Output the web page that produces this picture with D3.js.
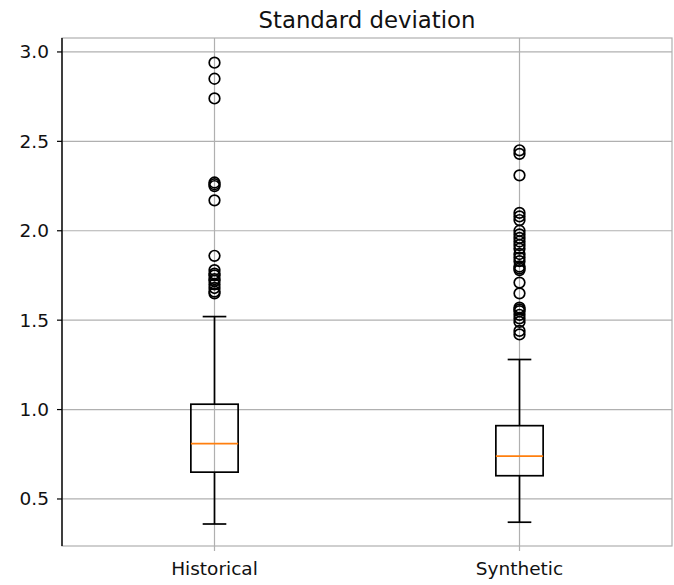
<!DOCTYPE html>
<html>
<head>
<meta charset="utf-8">
<script src="https://cdn.jsdelivr.net/npm/d3@7"></script>
<style>
  html, body { margin: 0; padding: 0; background: #fff; }
  svg { display: block; font-family: "DejaVu Sans", sans-serif; }
</style>
</head>
<body>
<svg id="chart" width="674" height="585"></svg>
<script>
// ---- data ----
const title = "Standard deviation";
const categories = ["Historical", "Synthetic"];
const whiskerLow = [0.36, 0.37];
const q1 = [0.65, 0.63];
const median = [0.81, 0.74];
const q3 = [1.03, 0.91];
const whiskerHigh = [1.52, 1.28];
const outliersHistorical = [2.94, 2.85, 2.74, 2.27, 2.26, 2.25, 2.17, 1.86,
  1.78, 1.76, 1.75, 1.73, 1.72, 1.70, 1.68, 1.66, 1.65];
const outliersSynthetic = [2.45, 2.43, 2.31, 2.10, 2.08, 2.06, 2.00, 1.98, 1.96,
  1.94, 1.92, 1.90, 1.87, 1.85, 1.83, 1.80, 1.79, 1.78, 1.71, 1.65,
  1.57, 1.56, 1.55, 1.53, 1.51, 1.49, 1.44, 1.42];
const outliers = [outliersHistorical, outliersSynthetic];
const yTicks = [0.5, 1.0, 1.5, 2.0, 2.5, 3.0];

// ---- layout ----
const svg = d3.select("#chart");
const pLeft = 62, pRight = 672, pTop = 38, pBottom = 546;
const x = d3.scaleLinear().domain([0.5, 2.5]).range([pLeft, pRight]);
const y = d3.scaleLinear().domain([0.237, 3.078]).range([pBottom, pTop]);
const boxW = 0.155;
const gridColor = "#b0b0b0";

// grid
const g = svg.append("g");
g.selectAll(".hgrid").data(yTicks).enter().append("line")
  .attr("x1", pLeft).attr("x2", pRight)
  .attr("y1", d => y(d)).attr("y2", d => y(d))
  .attr("stroke", gridColor).attr("stroke-width", 1.2);
g.selectAll(".vgrid").data(categories).enter().append("line")
  .attr("x1", (d, i) => x(i + 1)).attr("x2", (d, i) => x(i + 1))
  .attr("y1", pTop).attr("y2", pBottom)
  .attr("stroke", gridColor).attr("stroke-width", 1.2);

// frame (gray top/right/bottom)
g.append("rect").attr("x", pLeft).attr("y", pTop)
  .attr("width", pRight - pLeft).attr("height", pBottom - pTop)
  .attr("fill", "none").attr("stroke", gridColor).attr("stroke-width", 1.2);

// boxes
const boxes = svg.append("g").selectAll("g").data(categories).enter().append("g");
boxes.each(function(d, i) {
  const s = d3.select(this);
  const cx = x(i + 1);
  const hw = x(1 + boxW / 2) - x(1);
  const cw = hw / 2;
  s.append("line").attr("x1", cx).attr("x2", cx)
    .attr("y1", y(q3[i])).attr("y2", y(whiskerHigh[i]))
    .attr("stroke", "#000").attr("stroke-width", 1.7);
  s.append("line").attr("x1", cx).attr("x2", cx)
    .attr("y1", y(q1[i])).attr("y2", y(whiskerLow[i]))
    .attr("stroke", "#000").attr("stroke-width", 1.7);
  [whiskerHigh[i], whiskerLow[i]].forEach(v => {
    s.append("line").attr("x1", cx - cw).attr("x2", cx + cw)
      .attr("y1", y(v)).attr("y2", y(v))
      .attr("stroke", "#000").attr("stroke-width", 1.7);
  });
  s.append("rect").attr("x", cx - hw).attr("width", 2 * hw)
    .attr("y", y(q3[i])).attr("height", y(q1[i]) - y(q3[i]))
    .attr("fill", "none").attr("stroke", "#000").attr("stroke-width", 1.7);
  s.append("line").attr("x1", cx - hw).attr("x2", cx + hw)
    .attr("y1", y(median[i])).attr("y2", y(median[i]))
    .attr("stroke", "#ff7f0e").attr("stroke-width", 1.8);
  s.selectAll("circle").data(outliers[i]).enter().append("circle")
    .attr("cx", cx).attr("cy", v => y(v)).attr("r", 5.3)
    .attr("fill", "none").attr("stroke", "#000").attr("stroke-width", 1.7);
});

// left spine (black)
svg.append("line").attr("x1", pLeft).attr("x2", pLeft)
  .attr("y1", pTop).attr("y2", pBottom)
  .attr("stroke", "#000").attr("stroke-width", 1.4);

// y axis ticks + labels
const ya = svg.append("g");
ya.selectAll("line").data(yTicks).enter().append("line")
  .attr("x1", pLeft - 5).attr("x2", pLeft)
  .attr("y1", d => y(d)).attr("y2", d => y(d))
  .attr("stroke", "#000").attr("stroke-width", 1.2);
ya.selectAll("text").data(yTicks).enter().append("text")
  .attr("x", pLeft - 13).attr("y", d => y(d))
  .attr("text-anchor", "end").attr("dominant-baseline", "central")
  .attr("font-size", 18.5).attr("fill", "#111")
  .text(d => d3.format(".1f")(d));

// x axis ticks + labels
const xa = svg.append("g");
xa.selectAll("line").data(categories).enter().append("line")
  .attr("x1", (d, i) => x(i + 1)).attr("x2", (d, i) => x(i + 1))
  .attr("y1", pBottom).attr("y2", pBottom + 5)
  .attr("stroke", gridColor).attr("stroke-width", 1.2);
xa.selectAll("text").data(categories).enter().append("text")
  .attr("x", (d, i) => x(i + 1)).attr("y", pBottom + 22)
  .attr("text-anchor", "middle").attr("dominant-baseline", "central")
  .attr("font-size", 18.5).attr("fill", "#111")
  .text(d => d);

// title
svg.append("text").attr("x", (pLeft + pRight) / 2).attr("y", 20)
  .attr("text-anchor", "middle").attr("dominant-baseline", "central")
  .attr("font-size", 22.8).attr("fill", "#111")
  .text(title);
</script>
</body>
</html>
